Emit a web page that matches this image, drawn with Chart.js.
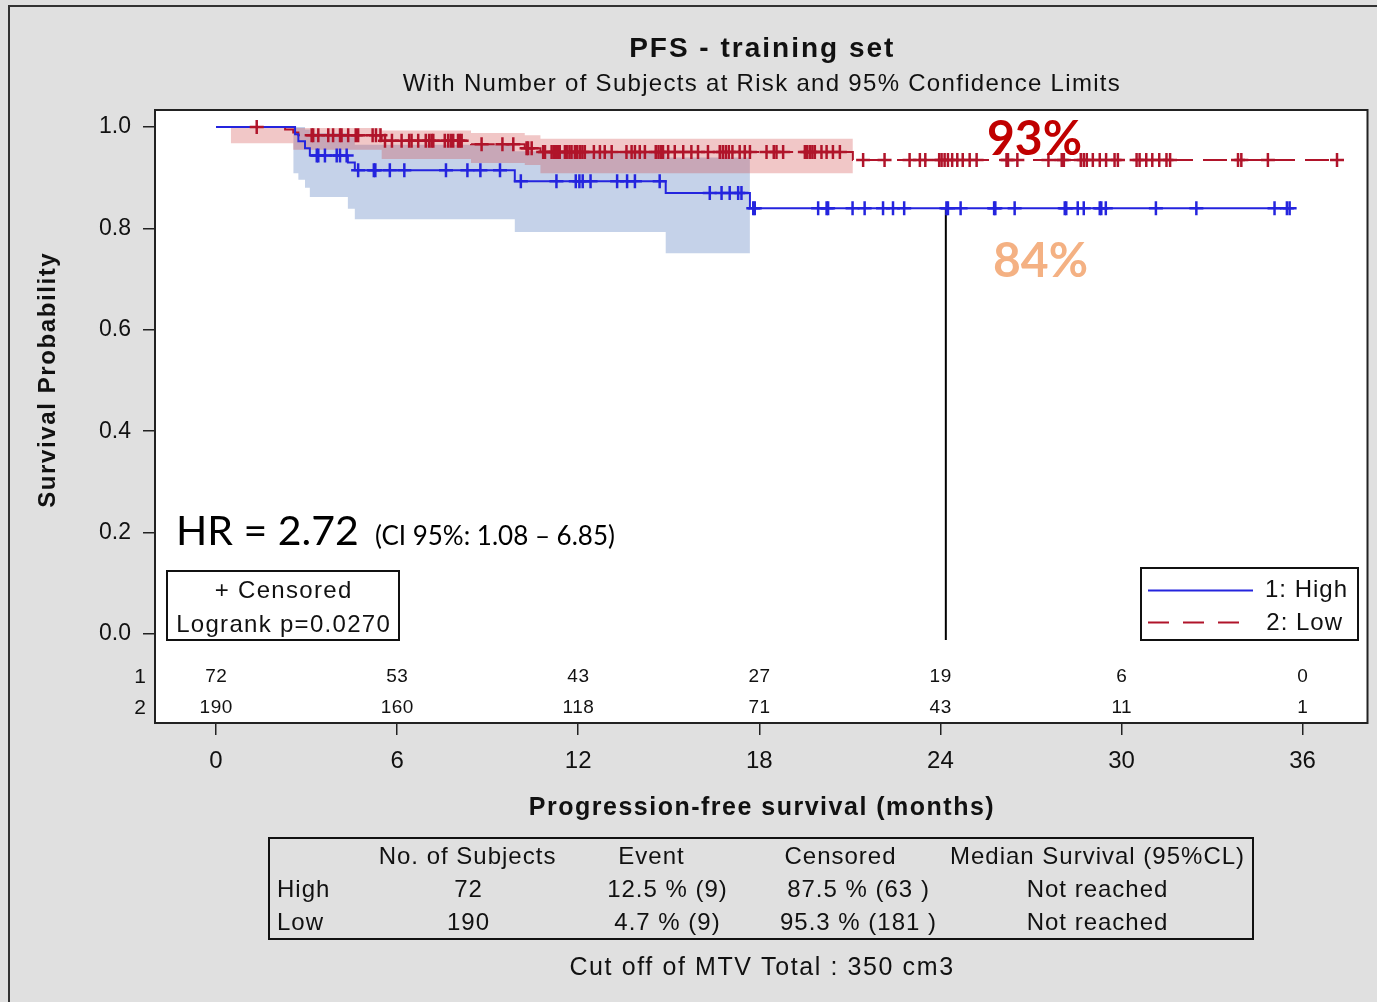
<!DOCTYPE html>
<html>
<head>
<meta charset="utf-8">
<script src="https://cdn.jsdelivr.net/npm/chart.js@4.4.1/dist/chart.umd.min.js"></script>
<style>
  html, body { margin: 0; padding: 0; background: #e0e0e0; overflow: hidden; }
  canvas { display: block; }
</style>
</head>
<body>
<canvas id="km" width="1377" height="1002"></canvas>
<script>
// Kaplan-Meier steps: [month, survival after the drop]
const highSteps = [[0, 1.0], [2.62, 0.986], [2.73, 0.972], [2.95, 0.958], [3.11, 0.944], [4.37, 0.930], [4.6, 0.915], [9.9, 0.893], [14.9, 0.870], [17.69, 0.840]];
const highEnd = 35.57;
const lowSteps = [[0, 1.0], [2.29, 0.995], [2.56, 0.989], [2.73, 0.984], [5.49, 0.973], [8.45, 0.966], [10.23, 0.958], [10.75, 0.951], [21.1, 0.935]];
const lowEnd = 37.14;

// 95% confidence bands: [month, lower, upper]
const highBand = [[2.56, 0.909, 1.0], [2.73, 0.896, 1.0], [2.95, 0.880, 0.995], [3.11, 0.862, 0.988], [4.37, 0.839, 0.980], [4.6, 0.818, 0.965], [9.9, 0.793, 0.952], [14.9, 0.751, 0.940]];
const highBandEnd = 17.69;
const lowBand = [[0.49, 0.968, 1.0], [2.56, 0.955, 0.998], [5.49, 0.937, 0.993], [8.45, 0.929, 0.988], [10.23, 0.925, 0.984], [10.75, 0.909, 0.977]];
const lowBandEnd = 21.1;

// censored times (months)
const highCensored = [3.34, 3.39, 3.61, 4.00, 4.11, 4.33, 4.71, 5.23, 5.28, 5.76, 6.24, 7.62, 8.33, 8.76, 9.41, 10.10, 11.28, 11.92, 12.04, 12.15, 12.41, 13.29, 13.62, 13.88, 14.70, 16.36, 16.75, 17.02, 17.30, 17.41, 17.80, 17.85, 19.95, 20.23, 20.28, 21.09, 21.49, 22.10, 22.43, 22.80, 24.20, 24.25, 24.67, 25.78, 25.82, 26.46, 28.12, 28.17, 28.55, 28.75, 29.28, 29.33, 29.48, 31.14, 32.48, 35.07, 35.48, 35.57];
const lowCensored = [1.35, 3.17, 3.22, 3.39, 3.72, 3.88, 4.11, 4.16, 4.38, 4.63, 4.71, 5.19, 5.30, 5.45, 5.60, 5.83, 6.15, 6.40, 6.48, 6.70, 6.95, 7.06, 7.14, 7.20, 7.58, 7.69, 7.78, 7.86, 8.02, 8.08, 8.14, 8.80, 9.49, 9.85, 10.29, 10.34, 10.46, 10.84, 10.90, 11.12, 11.19, 11.26, 11.34, 11.39, 11.56, 11.62, 11.71, 11.78, 11.89, 11.97, 12.06, 12.14, 12.22, 12.52, 12.72, 12.88, 13.11, 13.60, 13.77, 13.88, 14.04, 14.21, 14.57, 14.66, 14.74, 14.81, 14.98, 15.20, 15.48, 15.75, 15.97, 16.30, 16.69, 16.79, 16.89, 16.99, 17.11, 17.35, 17.52, 17.69, 18.24, 18.48, 18.57, 18.79, 19.51, 19.59, 19.68, 19.76, 19.84, 20.06, 20.23, 20.44, 20.67, 21.44, 22.15, 22.98, 23.32, 23.50, 23.96, 24.04, 24.14, 24.25, 24.39, 24.56, 24.74, 24.97, 25.20, 26.19, 26.24, 26.55, 27.58, 28.02, 28.09, 28.65, 28.75, 28.85, 29.05, 29.28, 29.49, 29.77, 29.88, 30.50, 30.60, 30.82, 31.02, 31.25, 31.49, 31.61, 33.86, 33.97, 34.85, 37.14];

// number at risk
const riskTimes = [0, 6, 12, 18, 24, 30, 36];
const riskHigh = [72, 53, 43, 27, 19, 6, 0];
const riskLow = [190, 160, 118, 71, 43, 11, 1];
const yTicks = [0, 0.2, 0.4, 0.6, 0.8, 1.0];

// reference line at 24 months
const refMonth = 24.18;
const refFrom = 0.84, refTo = -0.012;

// summary table
const tableHead = ['No. of Subjects', 'Event', 'Censored', 'Median Survival (95%CL)'];
const tableRows = [
  ['High', '72', '12.5 % (9)', '87.5 % (63 )', 'Not reached'],
  ['Low', '190', '4.7 % (9)', '95.3 % (181 )', 'Not reached']
];

const SAS = '"Liberation Sans", Arial, sans-serif';
const CAL = 'Lato, "Open Sans", sans-serif';
const BLUE = 'rgb(36,36,222)';
const RED = 'rgb(176,20,42)';

function stepAt(steps, t) {
  let v = steps[0][1];
  for (const [s, y] of steps) if (s <= t) v = y;
  return v;
}
function stepData(steps, end) {
  return steps.map(([x, y]) => ({x, y})).concat([{x: end, y: steps[steps.length - 1][1]}]);
}
function bandData(band, end, k) {
  return band.map(r => ({x: r[0], y: r[k]})).concat([{x: end, y: band[band.length - 1][k]}]);
}

function txt(ctx, s, x, y, font, align, color, base, ls) {
  ctx.font = font;
  ctx.fillStyle = color || '#111';
  ctx.textAlign = align || 'center';
  ctx.textBaseline = base || 'middle';
  ctx.letterSpacing = (ls || 0) + 'px';
  const shift = ls && (align || 'center') === 'center' ? ls / 2 : 0;
  ctx.fillText(s, x + shift, y);
  ctx.letterSpacing = '0px';
}

const frame = {
  id: 'frame',
  beforeDraw(chart) {
    const {ctx, chartArea: a} = chart;
    ctx.save();
    ctx.fillStyle = '#e0e0e0';
    ctx.fillRect(0, 0, chart.width, chart.height);
    ctx.strokeStyle = '#333';
    ctx.lineWidth = 2;
    ctx.beginPath();
    ctx.moveTo(9, chart.height);
    ctx.lineTo(9, 6);
    ctx.lineTo(chart.width, 6);
    ctx.stroke();
    ctx.fillStyle = '#fff';
    ctx.fillRect(a.left, a.top, a.right - a.left, a.bottom - a.top);
    ctx.restore();
  },
  afterDraw(chart) {
    const {ctx, chartArea: a} = chart;
    const xs = chart.scales.x;
    const cx = (a.left + a.right) / 2;
    ctx.save();
    ctx.strokeStyle = '#222';
    ctx.lineWidth = 2;
    ctx.strokeRect(a.left, a.top, a.right - a.left, a.bottom - a.top);

    // titles
    txt(ctx, 'PFS - training set', cx, 49, 'bold 28px ' + SAS, 'center', '#111', 'middle', 2);
    txt(ctx, 'With Number of Subjects at Risk and 95% Confidence Limits', cx, 84, '24px ' + SAS, 'center', '#111', 'middle', 1.3);
    txt(ctx, 'Progression-free survival (months)', cx, 808, 'bold 25px ' + SAS, 'center', '#111', 'middle', 1.5);
    ctx.save();
    ctx.translate(48, (chart.scales.y.getPixelForValue(0) + chart.scales.y.getPixelForValue(1)) / 2);
    ctx.rotate(-Math.PI / 2);
    txt(ctx, 'Survival Probability', 0, 0, 'bold 24px ' + SAS, 'center', '#111', 'middle', 1.6);
    ctx.restore();

    // at-risk rows
    txt(ctx, '1', 140, 677, '21px ' + SAS);
    txt(ctx, '2', 140, 708, '21px ' + SAS);
    riskTimes.forEach((t, i) => {
      const px = xs.getPixelForValue(t);
      txt(ctx, String(riskHigh[i]), px, 677, '19px ' + SAS, 'center', '#111', 'middle', 0.5);
      txt(ctx, String(riskLow[i]), px, 708, '19px ' + SAS, 'center', '#111', 'middle', 0.5);
    });

    // annotations
    txt(ctx, '93%', 987, 155, 'bold 48px ' + CAL, 'left', '#c00000', 'alphabetic');
    txt(ctx, '84%', 993, 277, 'bold 48px ' + CAL, 'left', '#f4b183', 'alphabetic');
    txt(ctx, 'HR = 2.72', 176, 545, '41px ' + CAL, 'left', '#000', 'alphabetic');
    txt(ctx, '(CI 95%: 1.08 \u2013 6.85)', 375, 545, '26px ' + CAL, 'left', '#000', 'alphabetic');

    // censored / logrank box
    ctx.lineWidth = 2;
    ctx.strokeStyle = '#111';
    ctx.strokeRect(167, 571, 232, 69);
    txt(ctx, '+ Censored', 283, 591, '24px ' + SAS, 'center', '#111', 'middle', 1.3);
    txt(ctx, 'Logrank p=0.0270', 283, 625, '24px ' + SAS, 'center', '#111', 'middle', 1.3);

    // legend
    ctx.strokeRect(1141, 568, 217, 72);
    ctx.lineWidth = 2;
    ctx.strokeStyle = BLUE;
    ctx.beginPath(); ctx.moveTo(1148, 590.5); ctx.lineTo(1253, 590.5); ctx.stroke();
    ctx.strokeStyle = RED;
    ctx.setLineDash([21, 14]);
    ctx.beginPath(); ctx.moveTo(1148, 622.5); ctx.lineTo(1241, 622.5); ctx.stroke();
    ctx.setLineDash([]);
    txt(ctx, '1: High', 1348, 590, '24px ' + SAS, 'right', '#111', 'middle', 1);
    txt(ctx, '2: Low', 1343, 623, '24px ' + SAS, 'right', '#111', 'middle', 1);

    // summary table
    ctx.strokeStyle = '#111';
    ctx.lineWidth = 2;
    ctx.strokeRect(269, 838, 984, 101);
    const colX = [467, 651, 840, 1097];
    tableHead.forEach((h, i) => txt(ctx, h, colX[i], 857, '24px ' + SAS, 'center', '#111', 'middle', 1));
    const valX = [468, 667, 858, 1097];
    tableRows.forEach((r, j) => {
      const y = 890 + j * 33;
      txt(ctx, r[0], 277, y, '24px ' + SAS, 'left', '#111', 'middle', 1);
      r.slice(1).forEach((v, i) => txt(ctx, v, valX[i], y, '24px ' + SAS, 'center', '#111', 'middle', 1));
    });
    txt(ctx, 'Cut off of MTV Total : 350 cm3', cx, 968, '25px ' + SAS, 'center', '#111', 'middle', 1.6);
    ctx.restore();
  }
};

const lineBase = {type: 'line', stepped: 'before', pointRadius: 0, borderWidth: 2, fill: false};

new Chart(document.getElementById('km'), {
  type: 'line',
  data: {
    datasets: [
      {...lineBase, data: bandData(highBand, highBandEnd, 1), borderWidth: 0, order: 10},
      {...lineBase, data: bandData(highBand, highBandEnd, 2), borderWidth: 0, fill: 0,
        backgroundColor: 'rgba(140,165,212,0.5)', order: 9},
      {...lineBase, data: bandData(lowBand, lowBandEnd, 1), borderWidth: 0, order: 8},
      {...lineBase, data: bandData(lowBand, lowBandEnd, 2), borderWidth: 0, fill: 2,
        backgroundColor: 'rgba(210,70,70,0.3)', order: 7},
      {...lineBase, data: [{x: refMonth, y: refFrom}, {x: refMonth, y: refTo}], stepped: false,
        borderColor: '#000', order: 6},
      {...lineBase, data: stepData(lowSteps, lowEnd), borderColor: RED, borderDash: [24, 10], order: 5},
      {...lineBase, data: stepData(highSteps, highEnd), borderColor: BLUE, order: 4},
      {type: 'line', showLine: false, data: highCensored.map(t => ({x: t, y: stepAt(highSteps, t)})),
        pointStyle: 'cross', pointRadius: 7, pointBorderWidth: 2.5, pointBorderColor: BLUE, borderColor: BLUE, order: 3},
      {type: 'line', showLine: false, data: lowCensored.map(t => ({x: t, y: stepAt(lowSteps, t)})),
        pointStyle: 'cross', pointRadius: 7, pointBorderWidth: 2.5, pointBorderColor: RED, borderColor: RED, order: 2}
    ]
  },
  options: {
    responsive: false,
    animation: false,
    devicePixelRatio: 1,
    layout: {padding: {left: 0, right: 9, top: 110, bottom: 219}},
    plugins: {legend: {display: false}, tooltip: {enabled: false}},
    scales: {
      x: {
        type: 'linear', min: -2.02, max: 38.15,
        afterBuildTicks: s => { s.ticks = riskTimes.map(v => ({value: v})); },
        afterFit: s => { s.height = 60; },
        ticks: {font: {family: SAS, size: 24}, color: '#111', padding: 12, maxRotation: 0, autoSkip: false},
        grid: {drawOnChartArea: false, drawTicks: true, tickLength: 12, color: '#222', lineWidth: 1.5},
        border: {display: false}
      },
      y: {
        type: 'linear', min: -0.1755, max: 1.0336,
        afterBuildTicks: s => { s.ticks = yTicks.map(v => ({value: v})); },
        afterFit: s => { s.width = 155; },
        ticks: {font: {family: SAS, size: 23}, color: '#111', padding: 12, callback: v => v.toFixed(1)},
        grid: {drawOnChartArea: false, drawTicks: true, tickLength: 12, color: '#222', lineWidth: 1.5},
        border: {display: false}
      }
    }
  },
  plugins: [frame]
});
</script>
</body>
</html>
